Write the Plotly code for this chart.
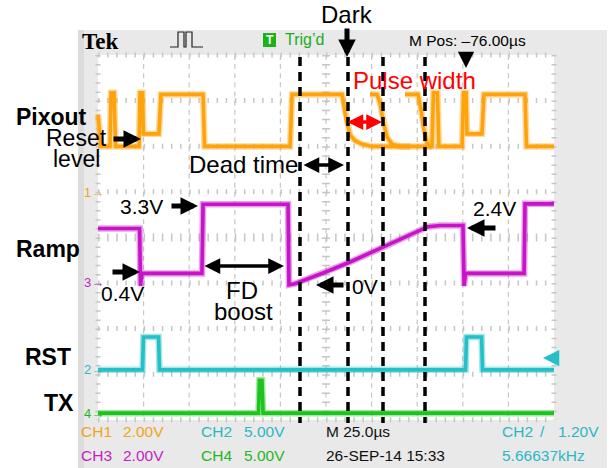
import plotly.graph_objects as go

# ---------------- data (read from the oscilloscope screen) ----------------
# time in microseconds from the left edge of the screen (25 us/div, 10 div)
# voltages in volts, per channel

# CH1 Pixout (2 V/div) – main sweep
pix_t = [0.0, 1.6, 6.6, 7.1, 8.8, 9.6, 22.5, 23.0, 24.4, 24.9, 33.4, 34.5, 57.6, 58.4,
         105.3, 106.4, 133.8, 136.0, 138.2, 140.9, 144.7, 150.2, 183.1, 183.9, 186.1,
         186.9, 199.6, 200.4, 201.8, 202.3, 210.5, 211.6, 234.1, 234.9, 250.0]
pix_v = [3.4, 2.0, 2.0, 4.35, 4.35, 2.0, 2.0, 4.35, 4.35, 2.55, 2.55, 4.28, 4.28, 2.0,
         2.0, 4.28, 4.28, 3.2, 2.5, 2.25, 2.1, 2.0, 2.0, 4.35, 4.35,
         2.0, 2.0, 4.35, 4.35, 2.55, 2.55, 4.28, 4.28, 2.0, 2.0]
# CH1 Pixout – overlaid sweeps with longer pulses
pix_b_t = [149.1, 153.0, 154.6, 156.3, 158.5, 161.2, 165.6, 171.1]
pix_b_v = [4.28, 4.28, 3.9, 3.1, 2.4, 2.1, 2.0, 2.0]
pix_c_t = [168.3, 175.4, 177.1, 178.7, 180.4, 182.0, 183.1]
pix_c_v = [4.28, 4.28, 3.6, 2.7, 2.15, 2.0, 2.0]

# CH3 Ramp (2 V/div)
ramp_t = [0.0, 22.8, 23.3, 24.1, 57.0, 57.6, 104.2, 104.7, 108.0, 110.7, 124.5, 138.2,
          156.3, 171.1, 180.9, 187.5, 200.1, 200.7, 201.5, 233.6, 234.1, 250.0]
ramp_v = [2.42, 2.42, -0.1, 0.45, 0.45, 3.48, 3.48, -0.05, 0.0, 0.08, 0.5, 0.95,
          1.6, 2.15, 2.5, 2.55, 2.55, -0.1, 0.45, 0.45, 3.5, 3.5]

# CH2 RST (5 V/div)
rst_t = [0.0, 24.4, 24.9, 33.2, 33.7, 201.5, 202.0, 210.3, 210.8, 250.0]
rst_v = [0.0, 0.0, 3.6, 3.6, 0.0, 0.0, 3.6, 3.6, 0.0, 0.0]

# CH4 TX (5 V/div)
tx_t = [0.0, 88.0, 88.5, 89.9, 90.5, 250.0]
tx_v = [0.0, 0.0, 3.6, 3.6, 0.0, 0.0]

# channel settings: volts per division and ground marker position (div from bottom)
ch_scale = {"CH1": 2.0, "CH2": 5.0, "CH3": 2.0, "CH4": 5.0}
ch_ground = {"CH1": 5.0, "CH2": 1.1, "CH3": 2.99, "CH4": 0.15}

# ---------------- geometry / style ----------------
W, H = 609, 468
GX0, GX1, GY0, GY1 = 98, 554, 420, 55      # graticule box in pixels
DIV = 45.6
US_PER_DIV = 25.0

ORANGE = "#ffa30d"
MAGENTA = "#c814c8"
CYAN = "#23c0c8"
GREEN = "#1ec41e"
TXT_OR = "#f5a21a"
TXT_CY = "#2ab8c4"
TXT_MG = "#c41fc4"
TXT_GR = "#24b824"
GRID = "#c6c6c6"
SANS = "Liberation Sans, Arial, sans-serif"


def px2t(px):
    return (px - GX0) / DIV * US_PER_DIV


def P(px, py):
    return px / W, 1 - py / H


def to_div(ch, volts):
    return [ch_ground[ch] + v / ch_scale[ch] for v in volts]


fig = go.Figure()


def add_wave(t, v, ch, color, core=3.6, halo=6.5):
    y = to_div(ch, v)
    fig.add_trace(go.Scatter(x=t, y=y, mode="lines", line=dict(color=color, width=halo),
                             opacity=0.4, hoverinfo="skip", showlegend=False))
    fig.add_trace(go.Scatter(x=t, y=y, mode="lines", line=dict(color=color, width=core),
                             hoverinfo="skip", showlegend=False))


add_wave(tx_t, tx_v, "CH4", GREEN)
add_wave(rst_t, rst_v, "CH2", CYAN)
add_wave(ramp_t, ramp_v, "CH3", MAGENTA)
add_wave(pix_c_t, pix_c_v, "CH1", ORANGE)
add_wave(pix_b_t, pix_b_v, "CH1", ORANGE)
add_wave(pix_t, pix_v, "CH1", ORANGE)

shapes = []


def rect(x0, y0, x1, y1, fill, layer="below"):
    a, b = P(x0, y0)
    c, d = P(x1, y1)
    shapes.append(dict(type="rect", xref="paper", yref="paper", x0=a, y0=b, x1=c, y1=d,
                       fillcolor=fill, line=dict(width=0), layer=layer))


def seg(x0, y0, x1, y1, color, width, dash="solid", layer="below"):
    a, b = P(x0, y0)
    c, d = P(x1, y1)
    shapes.append(dict(type="line", xref="paper", yref="paper", x0=a, y0=b, x1=c, y1=d,
                       line=dict(color=color, width=width, dash=dash), layer=layer))


# scope panel and graticule
rect(78, 30, 607, 468, "#e9e9e9")
rect(78, 30, 84, 468, "#dcdcdc")
rect(GX0, GY1, GX1, GY0, "#ffffff")
tick = "1.5px,7.62px"
for k in range(9):
    y = GY1 + k * DIV
    w = 8 if k == 4 else 5
    seg(GX0, y, GX1, y, GRID, w, tick)
for i in range(11):
    x = GX0 + i * DIV
    if i in (0, 10):
        seg(x, GY1, x, GY0, GRID, 5, tick)
    elif i == 5:
        seg(x, GY1, x, GY0, GRID, 8, tick)
        seg(x, GY1, x, GY0, GRID, 1.2, "5px,4.12px")
    else:
        seg(x, GY1, x, GY0, GRID, 1.2, "5px,4.12px")

# black dashed marker lines (drawn over the traces)
for xm in (300, 348, 383, 425):
    seg(xm, 57, xm, 423, "#000000", 3.5, "9px,6px", layer="above")

# acquisition icon
icon = [(170, 47), (178, 47), (178, 32), (184, 32), (184, 47), (186, 47), (186, 32),
        (192, 32), (192, 47), (203, 47)]
path = "M " + " L ".join(f"{x / W:.5f},{1 - y / H:.5f}" for x, y in icon)
shapes.append(dict(type="path", xref="paper", yref="paper", path=path,
                   line=dict(color="#222222", width=1.2), layer="above"))
# trigger box
rect(263, 33, 276, 47, "#18b418", layer="above")

ann = []


def text(s, px, py, size, color="#000000", anchor="center", bold=False, family=SANS):
    x, y = P(px, py)
    if bold:
        s = f"<b>{s}</b>"
    ann.append(dict(text=s, x=x, y=y, xref="paper", yref="paper", showarrow=False,
                    xanchor=anchor, yanchor="middle",
                    font=dict(size=size, color=color, family=family)))


def arrow(tip, tail, color="#000000", width=5, size=0.7, both=False):
    x, y = P(*tip)
    ann.append(dict(text="", x=x, y=y, xref="paper", yref="paper", showarrow=True,
                    ax=tail[0] - tip[0], ay=tail[1] - tip[1],
                    arrowhead=2, arrowwidth=width, arrowsize=size, arrowcolor=color,
                    arrowside="end+start" if both else "end",
                    startarrowhead=2, startarrowsize=size))


# header
text("Tek", 80, 41, 23, anchor="left", bold=True, family="Liberation Serif, Times New Roman, serif")
text("<b>T</b>", 269.5, 40, 12, color="#ffffff")
text("Trig’d", 283, 39, 16, color="#1aad1a", anchor="left")
text("M Pos: –76.00µs", 407, 40, 15.5, anchor="left")
arrow((466, 68), (466, 52), width=2.5, size=1.3)

# footer
text("CH1", 79, 431, 15.5, TXT_OR, "left")
text("2.00V", 121, 431, 15.5, TXT_OR, "left")
text("CH2", 199, 431, 15.5, TXT_CY, "left")
text("5.00V", 242, 431, 15.5, TXT_CY, "left")
text("M 25.0µs", 324, 431, 15.5, "#111111", "left")
text("CH2", 500, 431, 15.5, TXT_CY, "left")
text("/", 538, 431, 15.5, TXT_CY, "left")
text("1.20V", 556, 431, 15.5, TXT_CY, "left")
text("CH3", 79, 455, 15.5, TXT_MG, "left")
text("2.00V", 121, 455, 15.5, TXT_MG, "left")
text("CH4", 199, 455, 15.5, TXT_GR, "left")
text("5.00V", 242, 455, 15.5, TXT_GR, "left")
text("26-SEP-14 15:33", 324, 455, 15.5, "#111111", "left")
text("5.66637kHz", 500, 455, 15.5, TXT_CY, "left")

# channel ground markers
text("1→", 82, 192, 13, TXT_OR, "left")
text("3→", 82, 282, 13, TXT_MG, "left")
text("2→", 82, 369, 13, TXT_CY, "left")
text("4→", 82, 413, 13, TXT_GR, "left")
arrow((543, 358), (553, 358), color=CYAN, width=2.5, size=1.3)

# signal names
text("Pixout", 14, 117, 23, anchor="left", bold=True)
text("Ramp", 14, 249, 23, anchor="left", bold=True)
text("RST", 23, 357, 23, anchor="left", bold=True)
text("TX", 42, 403, 23, anchor="left", bold=True)

# annotations
text("Dark", 347, 14, 24)
arrow((347, 57), (347, 27))
text("Pulse width", 351, 80, 24, color="#ff0000", anchor="left")
arrow((382, 122), (346, 122), color="#ff0000", width=3.5, size=0.9, both=True)
text("Reset", 76, 138, 23)
text("level", 76, 159, 23)
arrow((141, 139), (112, 139))
text("Dead time", 243, 164, 24)
arrow((344, 165), (302, 165), width=3.5, size=0.9, both=True)
text("3.3V", 141, 206, 21)
arrow((198, 206), (170, 206))
text("0.4V", 122, 293, 21)
arrow((140, 272), (111, 272))
text("FD", 242, 290, 24)
text("boost", 243, 311, 24)
arrow((284, 266), (203, 266), width=3.5, size=0.9, both=True)
text("0V", 365, 286, 21)
arrow((316, 285), (345, 285))
text("2.4V", 494, 208, 21)
arrow((467, 228), (497, 228))

fig.update_layout(
    width=W, height=H, margin=dict(l=0, r=0, t=0, b=0),
    paper_bgcolor="#ffffff", plot_bgcolor="rgba(0,0,0,0)",
    xaxis=dict(range=[px2t(0), px2t(W)], visible=False, fixedrange=True),
    yaxis=dict(range=[(GY0 - H) / DIV, GY0 / DIV], visible=False, fixedrange=True),
    shapes=shapes, annotations=ann, showlegend=False,
)

fig.write_html(
    "out.html",
    config={"displayModeBar": False},
    post_script="document.body.style.margin='0';document.body.style.overflow='hidden';",
)
